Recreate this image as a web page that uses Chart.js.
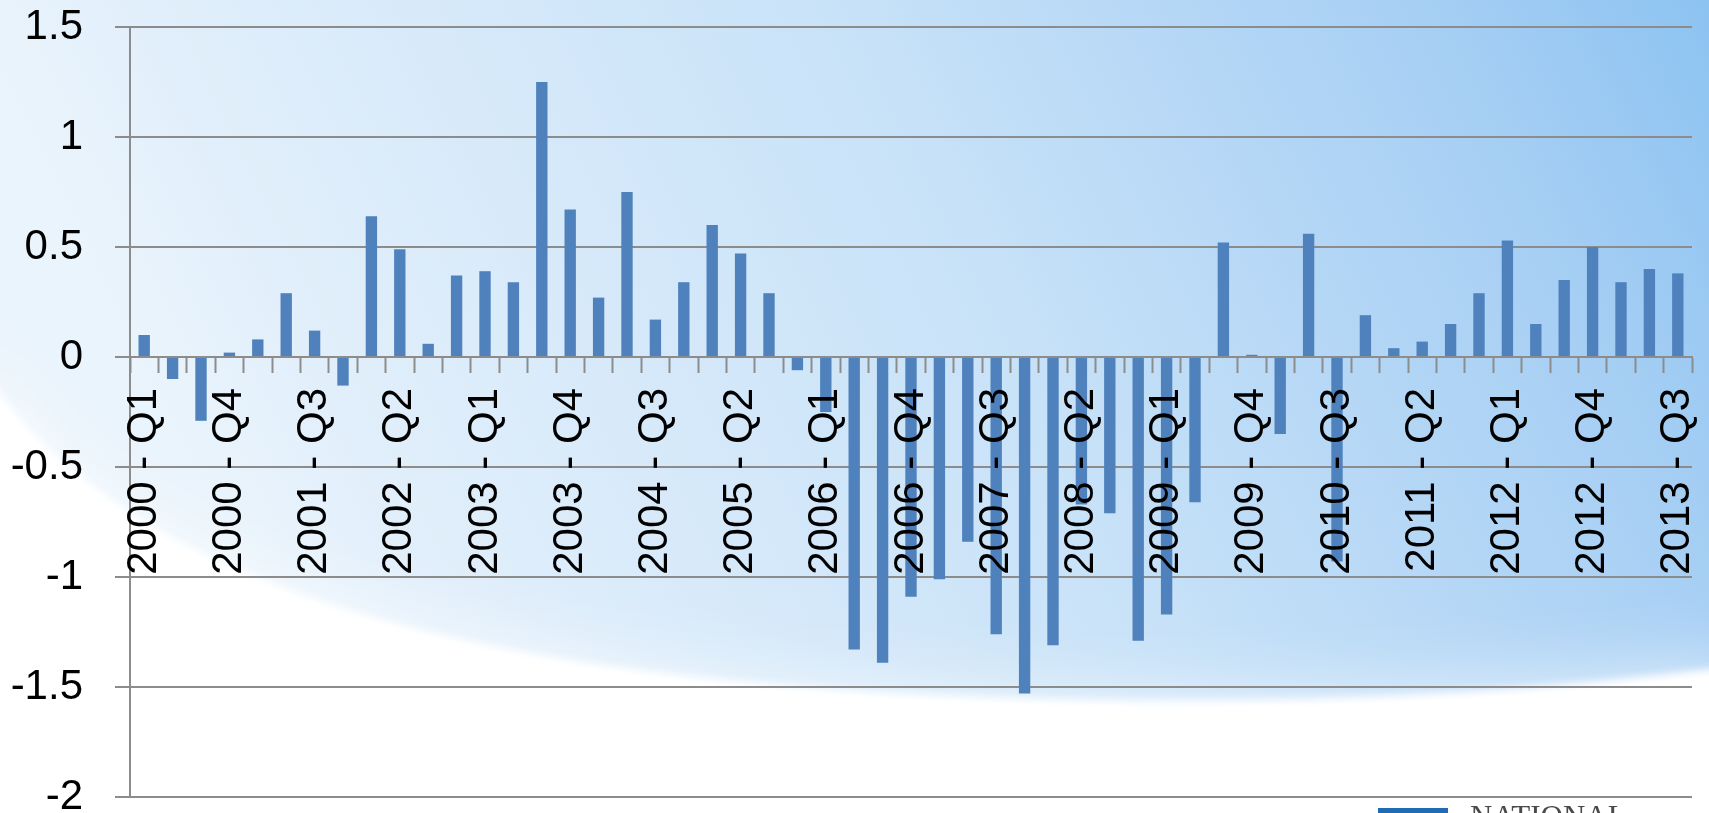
<!DOCTYPE html>
<html>
<head>
<meta charset="utf-8">
<script src="https://cdn.jsdelivr.net/npm/chart.js@4/dist/chart.umd.min.js"></script>
<style>
  html, body { margin: 0; padding: 0; overflow: hidden; background: #ffffff; }
  #wrap { position: relative; width: 1709px; height: 813px; }
</style>
</head>
<body>
<div id="wrap"><canvas id="chart"></canvas></div>
<script>
// quarterly series, 2000 Q1 .. 2013 Q3
const quarters = [
  '2000 - Q1', '2000 - Q2', '2000 - Q3', '2000 - Q4',
  '2001 - Q1', '2001 - Q2', '2001 - Q3', '2001 - Q4',
  '2002 - Q1', '2002 - Q2', '2002 - Q3', '2002 - Q4',
  '2003 - Q1', '2003 - Q2', '2003 - Q3', '2003 - Q4',
  '2004 - Q1', '2004 - Q2', '2004 - Q3', '2004 - Q4',
  '2005 - Q1', '2005 - Q2', '2005 - Q3', '2005 - Q4',
  '2006 - Q1', '2006 - Q2', '2006 - Q3', '2006 - Q4',
  '2007 - Q1', '2007 - Q2', '2007 - Q3', '2007 - Q4',
  '2008 - Q1', '2008 - Q2', '2008 - Q3', '2008 - Q4',
  '2009 - Q1', '2009 - Q2', '2009 - Q3', '2009 - Q4',
  '2010 - Q1', '2010 - Q2', '2010 - Q3', '2010 - Q4',
  '2011 - Q1', '2011 - Q2', '2011 - Q3', '2011 - Q4',
  '2012 - Q1', '2012 - Q2', '2012 - Q3', '2012 - Q4',
  '2013 - Q1', '2013 - Q2', '2013 - Q3'
];

const values = [
  0.10, -0.10, -0.29, 0.02,
  0.08, 0.29, 0.12, -0.13,
  0.64, 0.49, 0.06, 0.37,
  0.39, 0.34, 1.25, 0.67,
  0.27, 0.75, 0.17, 0.34,
  0.60, 0.47, 0.29, -0.06,
  -0.25, -1.33, -1.39, -1.09,
  -1.01, -0.84, -1.26, -1.53,
  -1.31, -0.67, -0.71, -1.29,
  -1.17, -0.66, 0.52, 0.01,
  -0.35, 0.56, -0.93, 0.19,
  0.04, 0.07, 0.15, 0.29,
  0.53, 0.15, 0.35, 0.50,
  0.34, 0.40, 0.38
];

// only every third quarter gets a label on the axis
const labelEvery = 3;
const yTicks = { min: -2, max: 1.5, step: 0.5 };

const gridGray = '#8c8c8c';
const axisFont = { family: "'Liberation Sans', Arial, sans-serif", size: 42 };

// white swoosh across the lower part of the slide
function swooshPath(ctx, w, h) {
  ctx.beginPath();
  ctx.moveTo(-40, 330);
  ctx.bezierCurveTo(100, 600, 500, 690, 1100, 700);
  ctx.quadraticCurveTo(1450, 705, w + 40, 664);
  ctx.lineTo(w + 40, h + 40);
  ctx.lineTo(-40, h + 40);
  ctx.closePath();
}

// slide backdrop: blue wash, white swoosh and the logo strip at the bottom
const backdrop = {
  id: 'backdrop',
  beforeDraw(chart) {
    const { ctx, width, height } = chart;
    ctx.save();
    const g = ctx.createLinearGradient(300, 700, 1709, 0);
    g.addColorStop(0, '#eaf4fc');
    g.addColorStop(0.1, '#e2effb');
    g.addColorStop(0.5, '#c8e2f8');
    g.addColorStop(0.83, '#a7cff4');
    g.addColorStop(1, '#8dc3f1');
    ctx.fillStyle = g;
    ctx.fillRect(0, 0, width, height);

    ctx.fillStyle = '#ffffff';
    ctx.globalAlpha = 0.7;
    ctx.filter = 'blur(40px)';
    swooshPath(ctx, width, height);
    ctx.fill();
    ctx.globalAlpha = 1;
    ctx.filter = 'blur(4px)';
    swooshPath(ctx, width, height);
    ctx.fill();
    ctx.filter = 'none';

    ctx.fillStyle = '#1f6cb4';
    ctx.fillRect(1378, 808, 70, 6);
    ctx.fillStyle = '#4a4a4a';
    ctx.font = "31px 'Liberation Serif', serif";
    ctx.textBaseline = 'alphabetic';
    ctx.fillText('NATIONAL', 1470, 827);
    ctx.restore();
  }
};

new Chart(document.getElementById('chart'), {
  type: 'bar',
  data: {
    labels: quarters,
    datasets: [{
      data: values,
      backgroundColor: '#4f81bd',
      borderWidth: 0,
      categoryPercentage: 1,
      barPercentage: 0.4
    }]
  },
  options: {
    responsive: true,
    maintainAspectRatio: false,
    animation: false,
    layout: { padding: { top: 27, right: 17, bottom: 16, left: 0 } },
    plugins: {
      legend: { display: false },
      tooltip: { enabled: false }
    },
    scales: {
      x: {
        position: { y: 0 },
        offset: true,
        grid: {
          offset: true,
          drawOnChartArea: false,
          drawTicks: true,
          tickLength: 15,
          tickColor: gridGray,
          tickWidth: 2
        },
        border: { display: true, color: gridGray, width: 2 },
        ticks: {
          z: 1, // category labels sit on top of the bars
          autoSkip: false,
          minRotation: 90,
          maxRotation: 90,
          padding: 16,
          color: '#000000',
          font: axisFont,
          callback: (v, i) => (i % labelEvery === 0 ? quarters[i] : '')
        },
        afterFit(scale) {
          scale.paddingLeft = 0;
          scale.paddingRight = 0;
        }
      },
      y: {
        min: yTicks.min,
        max: yTicks.max,
        ticks: {
          stepSize: yTicks.step,
          padding: 32,
          color: '#000000',
          font: axisFont,
          callback: v => String(Math.round(v * 10) / 10)
        },
        grid: { color: gridGray, lineWidth: 2, tickLength: 15, tickColor: gridGray },
        border: { color: gridGray, width: 2 },
        afterFit(scale) {
          scale.width = 130;
          scale.paddingTop = 0;
          scale.paddingBottom = 0;
        }
      }
    }
  },
  plugins: [backdrop]
});
</script>
</body>
</html>
